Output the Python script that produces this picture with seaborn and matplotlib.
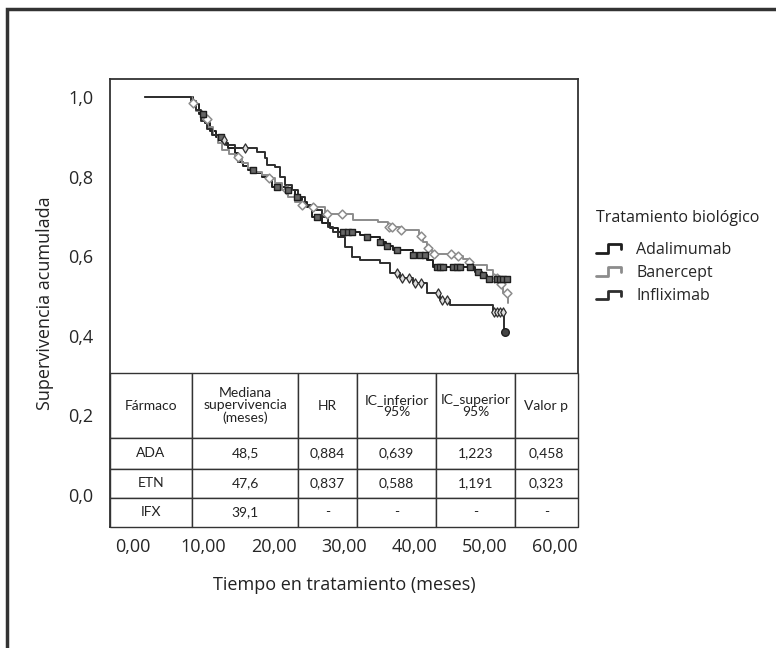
import matplotlib
matplotlib.use("Agg")
import matplotlib.pyplot as plt
import numpy as np
import pandas as pd
import seaborn as sns
from matplotlib.legend_handler import HandlerBase
from matplotlib.lines import Line2D
from matplotlib.patches import Rectangle


## Data ##
farmacos = ["Adalimumab", "Banercept", "Infliximab"]

ada_t = [1.7, 8.1, 8.6, 9.4, 10.2, 11.0, 11.8, 12.6, 13.5, 14.5,
         14.9, 15.7, 16.4, 17.4, 18.4, 19.8, 21.6, 23.0, 24.0, 24.8,
         25.5, 26.9, 28.0, 29.2, 32.3, 33.3, 35.1, 36.0, 37.0, 39.8,
         41.8, 42.7, 48.6, 49.6, 50.4, 53.3]
ada_s = [1.0, 1.0, 0.982, 0.958, 0.935, 0.915, 0.9, 0.885, 0.872, 0.859,
         0.837, 0.826, 0.817, 0.808, 0.799, 0.774, 0.766, 0.749, 0.735, 0.724,
         0.698, 0.683, 0.672, 0.661, 0.653, 0.648, 0.636, 0.626, 0.616, 0.603,
         0.590, 0.573, 0.560, 0.553, 0.543, 0.543]

etn_t = [1.7, 8.1, 8.4, 9.0, 9.8, 10.6, 11.4, 12.1, 12.7, 13.6,
         14.5, 15.5, 16.4, 17.4, 18.3, 19.2, 20.2, 21.2, 22.1, 23.0,
         24.0, 25.5, 27.3, 31.3, 34.9, 36.3, 38.0, 40.7, 41.3, 41.8,
         42.5, 45.6, 46.9, 47.7, 48.4, 50.4, 51.2, 51.9, 52.6, 53.3]
etn_s = [1.0, 1.0, 0.985, 0.965, 0.945, 0.925, 0.905, 0.884, 0.867, 0.857,
         0.849, 0.834, 0.822, 0.812, 0.804, 0.796, 0.784, 0.766, 0.749, 0.736,
         0.729, 0.724, 0.706, 0.691, 0.686, 0.673, 0.666, 0.652, 0.636, 0.621,
         0.606, 0.600, 0.592, 0.585, 0.578, 0.565, 0.545, 0.53, 0.508, 0.482]

ifx_t = [1.7, 8.1, 8.3, 8.9, 9.7, 10.5, 11.3, 12.2, 13.2, 14.5,
         17.6, 18.8, 19.1, 20.2, 20.9, 21.6, 22.6, 23.5, 24.5, 25.9,
         26.9, 27.7, 28.5, 29.2, 30.2, 31.2, 32.3, 35.1, 36.6, 38.0,
         39.8, 41.8, 43.7, 45.1, 51.2, 52.8, 52.9]
ifx_s = [1.0, 1.0, 0.99, 0.968, 0.94, 0.92, 0.905, 0.892, 0.88, 0.872,
         0.862, 0.847, 0.829, 0.824, 0.799, 0.779, 0.766, 0.749, 0.729, 0.716,
         0.698, 0.673, 0.66, 0.648, 0.623, 0.598, 0.590, 0.583, 0.558, 0.545,
         0.533, 0.508, 0.490, 0.477, 0.460, 0.41, 0.41]

# censored times (marks on the curves)
ada_cens = [10.0, 12.5, 17.0, 20.5, 22.1, 23.3, 26.2, 29.9, 30.6, 31.2, 33.3,
            35.1, 36.1, 37.5, 39.8, 40.8, 41.6, 43.2, 43.7, 44.1, 45.5, 46.1,
            46.5, 47.9, 49.1, 49.8, 50.6, 51.8, 52.2, 52.6, 53.2]
etn_cens = [8.6, 10.5, 15.0, 19.3, 21.9, 24.1, 25.6, 27.6, 29.7, 36.4, 36.9,
            38.1, 40.9, 41.9, 42.8, 45.2, 46.2, 47.8, 51.3, 51.8, 52.3, 53.2]
ifx_cens = [13.0, 16.0, 37.6, 38.3, 39.2, 40.1, 41.0, 43.4, 44.0, 44.7,
            51.4, 51.8, 52.2, 52.6]
ifx_final = 52.9

x_ticks = [0, 10, 20, 30, 40, 50, 60]
x_ticklabels = ["0,00", "10,00", "20,00", "30,00", "40,00", "50,00", "60,00"]
y_ticks = [0.0, 0.2, 0.4, 0.6, 0.8, 1.0]
y_ticklabels = ["0,0", "0,2", "0,4", "0,6", "0,8", "1,0"]

tabla_cols = ["Fármaco", "Mediana\nsupervivencia\n(meses)", "HR",
              "IC_inferior\n95%", "IC_superior\n95%", "Valor p"]
tabla_ada = ["ADA", "48,5", "0,884", "0,639", "1,223", "0,458"]
tabla_etn = ["ETN", "47,6", "0,837", "0,588", "1,191", "0,323"]
tabla_ifx = ["IFX", "39,1", "-", "-", "-", "-"]


## Style ##
sns.set_style("white")
plt.rcParams['font.family'] = ['Open Sans', 'DejaVu Sans']
colores = {"Adalimumab": "#1e1e1e", "Banercept": "#8c8c8c", "Infliximab": "#2e2e2e"}

df = pd.concat([
    pd.DataFrame({"tiempo": ada_t, "superv": ada_s, "farmaco": "Adalimumab"}),
    pd.DataFrame({"tiempo": etn_t, "superv": etn_s, "farmaco": "Banercept"}),
    pd.DataFrame({"tiempo": ifx_t, "superv": ifx_s, "farmaco": "Infliximab"}),
], ignore_index=True)


def step_value(t, s, c):
    idx = np.searchsorted(np.array(t), np.array(c), side='right') - 1
    return np.array(s)[idx]


fig = plt.figure(figsize=(7.76, 6.48), dpi=100)
ax = fig.add_axes([110/776, 1-527/648, 468/776, 448/648])

sns.lineplot(data=df, x="tiempo", y="superv", hue="farmaco", palette=colores,
             estimator=None, sort=False, drawstyle="steps-post", lw=1.4,
             legend=False, ax=ax)

# censor marks
ax.scatter(etn_cens, step_value(etn_t, etn_s, etn_cens), marker="D", s=20,
           facecolor="white", edgecolor="#8c8c8c", lw=1.1, zorder=4)
ax.scatter(ada_cens, step_value(ada_t, ada_s, ada_cens), marker="s", s=22,
           facecolor="#666666", edgecolor="#1e1e1e", lw=1.0, zorder=5)
ax.scatter(ifx_cens, step_value(ifx_t, ifx_s, ifx_cens), marker="d", s=22,
           facecolor="#dddddd", edgecolor="#2e2e2e", lw=0.9, zorder=5)
ax.scatter([ifx_final], step_value(ifx_t, ifx_s, [ifx_final]), marker="o", s=30,
           facecolor="#444444", edgecolor="#1e1e1e", lw=1.0, zorder=6)

ax.set_xlim(-3.27, 63.3)
ax.set_ylim(-0.08, 1.045)
ax.set_xticks(x_ticks)
ax.set_xticklabels(x_ticklabels, fontsize=13)
ax.set_yticks(y_ticks)
ax.set_yticklabels(y_ticklabels, fontsize=13)
ax.tick_params(axis="x", length=0, pad=8)
ax.tick_params(axis="y", length=0, pad=12)
ax.set_xlabel("Tiempo en tratamiento (meses)", fontsize=13, labelpad=14, color="#222222")
ax.set_ylabel("Supervivencia acumulada", fontsize=13, labelpad=10, color="#222222")
for sp in ax.spines.values():
    sp.set_color("#333333")
    sp.set_linewidth(1.3)

# table at the bottom of the axes
tab = ax.table(cellText=[tabla_ada, tabla_etn, tabla_ifx], colLabels=tabla_cols,
               cellLoc="center", bbox=[0, 0, 1, 0.344],
               colWidths=[82, 106, 59, 79, 79, 63])
tab.auto_set_font_size(False)
tab.set_fontsize(10)
alturas = [65, 30, 29, 29]
for (r, c), cell in tab.get_celld().items():
    cell.set_height(alturas[r])
    cell.set_edgecolor("#333333")
    cell.set_linewidth(1.0)
    txt = cell.get_text()
    txt.set_family(["Lato", "DejaVu Sans"])
    txt.set_linespacing(1.0)
    txt.set_color("#222222")
tab.set_zorder(10)


# legend with step shaped handles
class StepHandler(HandlerBase):
    def create_artists(self, legend, orig_handle, xdescent, ydescent,
                       width, height, fontsize, trans):
        xs = np.array([0.0, 0.45, 0.45, 0.95, 0.95]) * width - xdescent
        ys = np.array([0.1, 0.1, 0.85, 0.85, 0.4]) * height - ydescent
        line = Line2D(xs, ys, color=orig_handle.get_color(), lw=2.0)
        line.set_transform(trans)
        return [line]


handles = [Line2D([], [], color=colores[f]) for f in farmacos]
leg = fig.legend(handles, farmacos, title="Tratamiento biológico",
                 loc="upper left", bbox_to_anchor=(582/776, 1-196/648),
                 frameon=False, fontsize=11.5, title_fontsize=11.5,
                 handler_map={Line2D: StepHandler()}, handlelength=1.6,
                 handletextpad=0.9, labelspacing=0.45, borderaxespad=0.5,
                 alignment="left")
leg.get_title().set_color("#222222")
leg._legend_box.sep = 11

# outer frame (cut at right and bottom in the picture)
fig.patches.append(Rectangle((7/776, -0.2), 1.2, 1.2 - 9/648, transform=fig.transFigure,
                             fill=False, edgecolor="#333333", lw=2.5))

plt.savefig("out.png", dpi=100)
